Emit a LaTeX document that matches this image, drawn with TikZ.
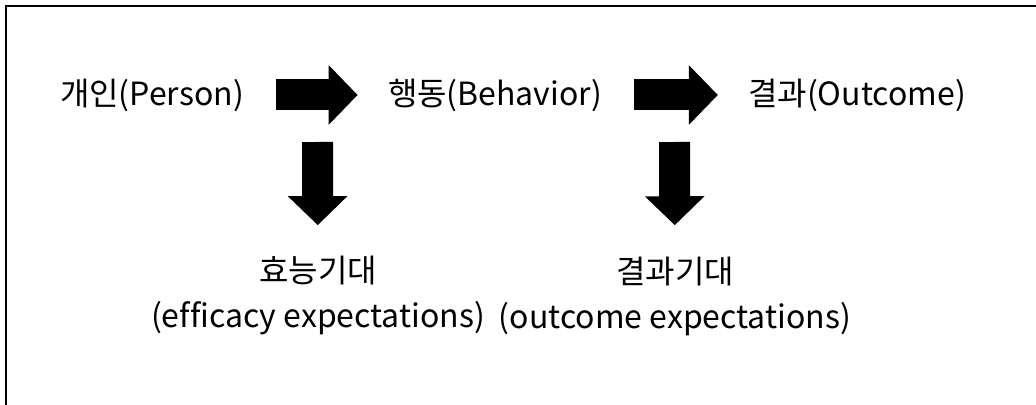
\documentclass[tikz,border=0pt]{standalone}
\usepackage{fontspec}
\setmainfont{Noto Sans CJK KR}[Ligatures=NoCommon]
\usetikzlibrary{arrows.meta}

\begin{document}
\begin{tikzpicture}[x=0.5pt, y=-0.5pt,
    txt/.style={font=\fontsize{16}{22.5}\selectfont, inner sep=0pt, align=center},
    fat/.style={line width=15.5pt, -{Triangle[length=14.5pt, width=29pt]}}]
    \useasboundingbox (0,0) rectangle (1036,405);
    \draw[line width=1pt] (5.7,405) -- (5.7,6) -- (1036,6);
    % top row
    \node[txt] (person) at (152,95) {개인(Person)};
    \node[txt] (behavior) at (495,95) {행동(Behavior)};
    \node[txt] (outcome) at (857,95) {결과(Outcome)};
    % bottom row
    \node[txt] (effexp) at (318,296) {효능기대\\(efficacy expectations)};
    \node[txt] (outexp) at (675,296) {결과기대\\(outcome expectations)};
    \coordinate (d1) at (317.5,142);
    \coordinate (d2) at (674.5,142);
    \draw[fat, shorten <=16pt, shorten >=15pt] (person) -- (behavior);
    \draw[fat, shorten <=16pt, shorten >=15pt] (behavior) -- (outcome);
    \draw[fat, shorten >=15.5pt] (d1) -- (effexp);
    \draw[fat, shorten >=15.5pt] (d2) -- (outexp);
\end{tikzpicture}
\end{document}
